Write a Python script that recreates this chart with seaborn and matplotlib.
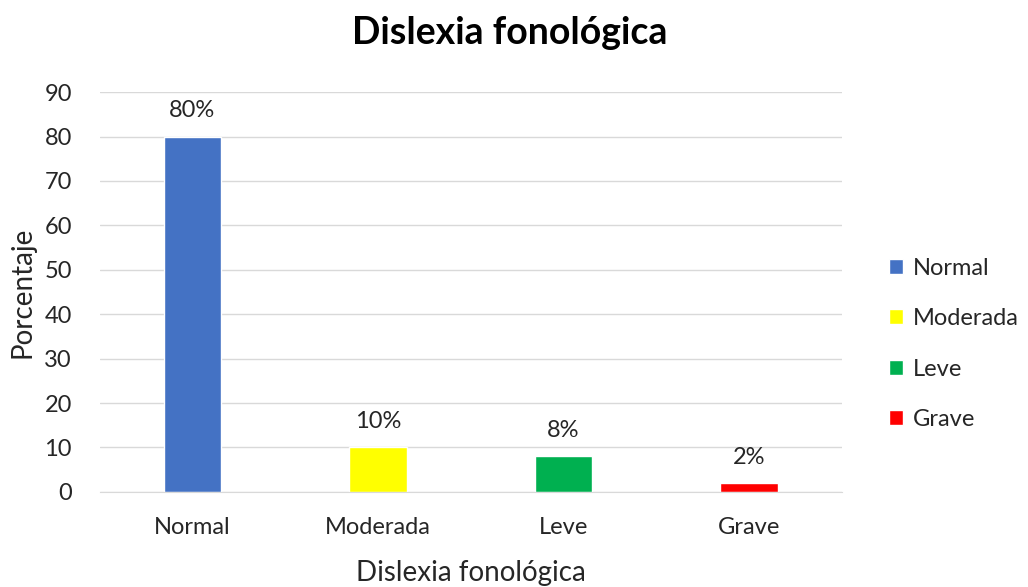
import numpy as np
import pandas as pd
import seaborn as sns
import matplotlib.pyplot as plt

categorias = ["Normal", "Moderada", "Leve", "Grave"]
porcentajes = [80, 10, 8, 2]
colores = ["#4472C4", "#FFFF00", "#00B050", "#FF0000"]

sns.set_style("white")
plt.rcParams['font.family'] = ['Lato', 'DejaVu Sans']

df = pd.DataFrame({"Dislexia fonológica": categorias, "Porcentaje": porcentajes})

fig = plt.figure(figsize=(10.28, 5.87), dpi=100)
ax = fig.add_axes([0.097, 0.162, 0.722, 0.681])

sns.barplot(data=df, x="Dislexia fonológica", y="Porcentaje", hue="Dislexia fonológica",
            palette=colores, width=0.31, dodge=False, legend=True, ax=ax, saturation=1)

for cont, v in zip(ax.containers, porcentajes):
    ax.bar_label(cont, labels=[f"{v}%"], padding=11, fontsize=17, color="#262626")

ax.set_ylim(0, 90)
ax.set_yticks(range(0, 91, 10))
ax.yaxis.grid(True, color="#D9D9D9", linewidth=1)
ax.set_axisbelow(True)
for s in ["top", "right", "left"]:
    ax.spines[s].set_visible(False)
ax.spines["bottom"].set_color("#D9D9D9")
ax.tick_params(axis="both", length=0, labelsize=17, colors="#262626")
ax.tick_params(axis="x", pad=18)
ax.tick_params(axis="y", pad=20)
ax.set_xlabel("Dislexia fonológica", fontsize=20, color="#262626", labelpad=16)
ax.set_ylabel("Porcentaje", fontsize=20, color="#262626", labelpad=6)
fig.text(0.496, 0.943, "Dislexia fonológica", fontsize=27, fontweight="bold", color="black",
         ha="center", va="center")

handles, labels = ax.get_legend_handles_labels()
leg = ax.legend(handles, labels, loc="center left", bbox_to_anchor=(1.035, 0.37), frameon=False,
                fontsize=17, handlelength=0.6, handleheight=0.6, handletextpad=0.4,
                labelspacing=1.25, labelcolor="#262626")

fig.savefig("out.png", dpi=100)
